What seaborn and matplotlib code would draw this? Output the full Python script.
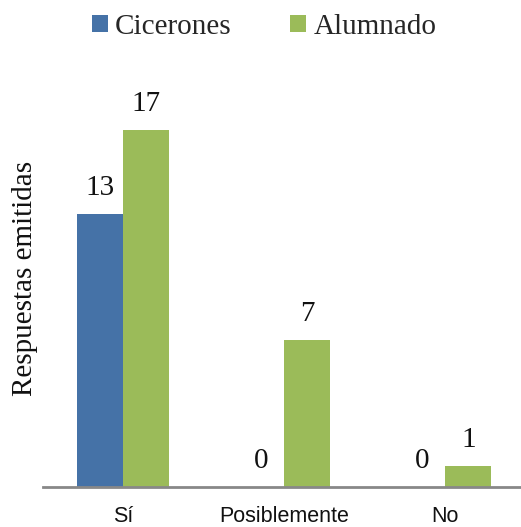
import matplotlib
matplotlib.use("Agg")
import matplotlib.pyplot as plt
import seaborn as sns
import pandas as pd
from matplotlib.patches import Patch

categories = ["Sí", "Posiblemente", "No"]
cicerones = [13, 0, 0]
alumnado = [17, 7, 1]
series_names = ["Cicerones", "Alumnado"]
colors = ["#4572A7", "#9BBB59"]

df = pd.DataFrame({
    "categoria": categories * 2,
    "grupo": [series_names[0]] * 3 + [series_names[1]] * 3,
    "valor": cicerones + alumnado,
})

sns.set_theme(style="white")
plt.rcParams["font.family"] = ["Liberation Serif", "DejaVu Serif"]

fig = plt.figure(figsize=(5.21, 5.27), dpi=100)
ax = fig.add_axes([0.0825, 0.0759, 0.9175, 0.7173])

sns.barplot(data=df, x="categoria", y="valor", hue="grupo",
            order=categories, hue_order=series_names,
            palette=colors, width=0.572, saturation=1,
            edgecolor="none", ax=ax, legend=False)

# value labels above each bar
for container in ax.containers:
    for bar in container:
        h = bar.get_height()
        ax.annotate(f"{int(round(h))}",
                    (bar.get_x() + bar.get_width() / 2, h),
                    xytext=(0, 13.5), textcoords="offset points",
                    ha="center", va="baseline", fontsize=21,
                    fontfamily=["Liberation Serif"], color="#111111")

ax.set_xlim(-0.5, 2.47)
ax.set_ylim(0, 18)
ax.set_yticks([])
ax.set_xlabel("")
ax.set_ylabel("Respuestas emitidas", fontsize=21,
              fontfamily=["Liberation Serif"], color="#111111")
ax.yaxis.set_label_coords(-0.011, 0.553)

for s in ["left", "right", "top"]:
    ax.spines[s].set_visible(False)
ax.spines["bottom"].set_color("#888888")
ax.spines["bottom"].set_linewidth(2)

ax.tick_params(axis="x", length=0, pad=14)
for lbl in ax.get_xticklabels():
    lbl.set_fontfamily(["Liberation Sans"])
    lbl.set_fontsize(15.5)
    lbl.set_color("#111111")

handles = [Patch(facecolor=c, edgecolor="none") for c in colors]
fig.legend(handles, series_names, loc="center", bbox_to_anchor=(0.507, 0.949),
           ncol=2, frameon=False, handlelength=0.55,
           handleheight=0.55, handletextpad=0.25, columnspacing=2.0,
           prop={"family": "Liberation Serif", "size": 21})

fig.savefig("out.png", dpi=100)
